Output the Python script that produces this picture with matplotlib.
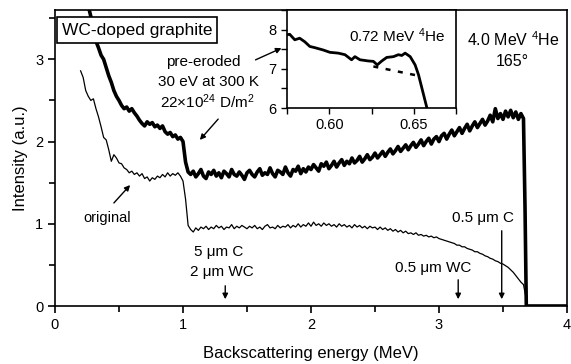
import numpy as np
import matplotlib
matplotlib.use("Agg")
import matplotlib.pyplot as plt
from matplotlib.ticker import MultipleLocator, FixedLocator, FormatStrFormatter

plt.rcParams['font.family'] = ['Liberation Sans', 'DejaVu Sans']
plt.rcParams['mathtext.fontset'] = 'custom'
plt.rcParams['mathtext.rm'] = 'Liberation Sans'
plt.rcParams['mathtext.it'] = 'Liberation Sans:italic'

# ---------------- data ----------------
energy_start = 0.20
energy_step = 0.02

pre_eroded = [
    3.95, 3.85, 3.74, 3.65, 3.52, 3.38, 3.22, 3.14, 3.05, 3.00,
    2.90, 2.80, 2.72, 2.62, 2.55, 2.50, 2.44, 2.40, 2.42, 2.37,
    2.40, 2.35, 2.31, 2.26, 2.22, 2.19, 2.24, 2.21, 2.23, 2.18,
    2.20, 2.16, 2.19, 2.12, 2.09, 2.11, 2.06, 2.08, 2.03, 2.05,
    2.00, 1.75, 1.63,
    1.60, 1.64, 1.57, 1.61, 1.66, 1.58, 1.55, 1.63, 1.60, 1.65,
    1.58, 1.62, 1.56, 1.64, 1.61, 1.57, 1.66, 1.60, 1.58, 1.63,
    1.59, 1.54, 1.62, 1.65, 1.60, 1.57, 1.63, 1.67, 1.59, 1.62,
    1.60, 1.68, 1.61, 1.57, 1.65, 1.63, 1.60, 1.69, 1.62, 1.58,
    1.66, 1.64, 1.70, 1.61, 1.67, 1.63, 1.69,
    1.66, 1.72, 1.68, 1.64, 1.73, 1.70, 1.75, 1.67, 1.71, 1.76,
    1.69, 1.74, 1.78, 1.71, 1.76, 1.73, 1.80, 1.74, 1.77, 1.82,
    1.75, 1.79, 1.84, 1.78, 1.81, 1.86, 1.80, 1.84, 1.88, 1.82,
    1.87, 1.91, 1.85, 1.89, 1.94, 1.88, 1.92, 1.96, 1.90, 1.95,
    1.99, 1.93, 1.97, 2.02, 1.95, 2.00, 2.04, 1.97, 2.03, 2.06,
    2.00, 2.07, 2.10, 2.03, 2.09, 2.14, 2.07, 2.12, 2.17, 2.10,
    2.16, 2.21, 2.13, 2.19, 2.24, 2.17, 2.22, 2.27, 2.20, 2.25,
    2.32, 2.24, 2.40, 2.28, 2.34, 2.27, 2.37, 2.30, 2.38, 2.29,
    2.36, 2.27, 2.34, 2.28,
]
pre_eroded_edge_e = [3.672, 3.682, 4.0]
pre_eroded_edge = [1.20, 0.0, 0.0]

original = [
    2.86, 2.78, 2.62, 2.55, 2.50, 2.52, 2.40, 2.30, 2.18, 2.05,
    2.02, 1.90, 1.76, 1.84, 1.80, 1.74, 1.73, 1.68, 1.66, 1.62,
    1.64, 1.60, 1.62, 1.58, 1.61, 1.55, 1.57, 1.52, 1.56, 1.54,
    1.58, 1.56, 1.60, 1.57, 1.62, 1.58, 1.61, 1.59, 1.62, 1.58,
    1.52, 1.30, 0.98, 0.93, 0.90, 0.95, 0.92, 0.96, 0.94, 0.97,
    0.93, 0.96, 0.94, 0.98, 0.95, 0.97, 0.93, 0.96, 0.95, 0.99,
    0.94, 0.97, 0.95, 0.98, 0.96, 0.94, 0.97, 0.95, 0.98, 0.94,
    0.96, 0.93, 0.97, 0.99, 0.95, 0.96, 0.94, 0.98, 0.95, 0.97,
    0.96, 0.99, 0.95, 0.98, 0.96, 1.00, 0.96, 0.99, 0.97, 1.01,
    0.97, 1.02, 0.98, 1.00, 0.97, 1.01, 0.98, 1.00, 0.97, 0.99,
    0.96, 1.00, 0.97, 0.99, 0.96, 0.98, 0.95, 0.99, 0.96, 0.98,
    0.95, 0.97, 0.94, 0.97, 0.95, 0.96, 0.93, 0.96, 0.93, 0.95,
    0.92, 0.94, 0.91, 0.93, 0.90, 0.92, 0.89, 0.91, 0.88, 0.89,
    0.87, 0.89, 0.86, 0.87, 0.85, 0.86, 0.84, 0.85, 0.83, 0.84,
    0.82, 0.81, 0.80, 0.79, 0.78, 0.77, 0.76, 0.74, 0.74, 0.72,
    0.72, 0.70, 0.69, 0.68, 0.66, 0.66, 0.64, 0.63, 0.61, 0.60,
    0.58, 0.57, 0.55, 0.54, 0.52, 0.51, 0.49, 0.47, 0.44, 0.41,
    0.37, 0.33, 0.29, 0.26,
]
original_edge_e = [3.68, 3.69, 4.0]
original_edge = [0.10, 0.0, 0.0]

# inset (0.72 MeV 4He)
inset_e = [0.575, 0.5766, 0.5796, 0.5825, 0.5855, 0.5885, 0.5914, 0.5964,
           0.6004, 0.6053, 0.6093, 0.6132, 0.6152, 0.6182, 0.6231, 0.6261,
           0.6284, 0.6311, 0.6340, 0.6380, 0.6409, 0.6429, 0.6449, 0.6479,
           0.6508, 0.6528, 0.6548, 0.6568, 0.6578, 0.6590]
inset_y = [7.87, 7.88, 7.74, 7.78, 7.69, 7.57, 7.54, 7.48,
           7.42, 7.40, 7.36, 7.23, 7.31, 7.23, 7.20, 7.19,
           7.10, 7.20, 7.29, 7.31, 7.36, 7.34, 7.40, 7.31,
           7.10, 6.85, 6.51, 6.17, 6.00, 5.80]
inset_dash_e = [0.6261, 0.6519]
inset_dash_y = [7.06, 6.83]

arrow_marks_e = [1.33, 3.15, 3.49]

# ---------------- figure ----------------
fig = plt.figure(figsize=(5.71, 3.64), dpi=100)
W, H = 571, 364
ax = fig.add_axes([55 / W, 1 - 306 / H, (567 - 55) / W, (306 - 10) / H])

n1 = len(pre_eroded)
e1 = np.round(energy_start + energy_step * np.arange(n1), 3)
ax.plot(list(e1) + pre_eroded_edge_e, pre_eroded + pre_eroded_edge,
        color='black', lw=2.6, zorder=3)
n2 = len(original)
e2 = np.round(energy_start + energy_step * np.arange(n2), 3)
ax.plot(list(e2) + original_edge_e, original + original_edge,
        color='black', lw=0.9, zorder=3)

ax.set_xlim(0, 4)
ax.set_ylim(0, 3.6)
ax.xaxis.set_major_locator(MultipleLocator(1))
ax.xaxis.set_minor_locator(MultipleLocator(0.5))
ax.yaxis.set_major_locator(MultipleLocator(1))
ax.yaxis.set_minor_locator(MultipleLocator(0.5))
ax.tick_params(which='both', direction='out', top=False, right=False,
               width=1.2, labelsize=10.5)
ax.tick_params(which='major', length=5)
ax.tick_params(which='minor', length=4)
for s in ax.spines.values():
    s.set_linewidth(1.2)
ax.set_xlabel('Backscattering energy (MeV)', fontsize=12, labelpad=10)
ax.set_ylabel('Intensity (a.u.)', fontsize=12, labelpad=5)

# texts in main axes
fig.text(137 / W, 1 - 30 / H, 'WC-doped graphite', fontsize=12.5,
         ha='center', va='center',
         bbox=dict(boxstyle='square,pad=0.3', fc='white', ec='black', lw=1.2))

def px(xp, yp):
    return ((xp - 55) / 512 * 4, (306 - yp) / 296 * 3.6)

ax.text(*px(203, 62), 'pre-eroded', fontsize=11, ha='center', va='center')
ax.text(*px(209, 82), '30 eV at 300 K', fontsize=11, ha='center', va='center')
ax.text(*px(207, 102), r'22$\times$10$^{24}$ D/m$^{2}$', fontsize=11,
        ha='center', va='center')
ax.annotate('', xy=px(198, 142), xytext=px(220, 117),
            arrowprops=dict(arrowstyle='-|>', color='black', lw=1.0,
                            mutation_scale=8))
ax.annotate('', xy=px(284, 47), xytext=px(253, 61),
            arrowprops=dict(arrowstyle='-|>', color='black', lw=1.0,
                            mutation_scale=8), annotation_clip=False)
ax.text(*px(107, 218), 'original', fontsize=10.5, ha='center', va='center')
ax.annotate('', xy=px(132, 183), xytext=px(112, 205),
            arrowprops=dict(arrowstyle='-|>', color='black', lw=1.0,
                            mutation_scale=8))
ax.text(*px(513, 40), r'4.0 MeV $^{4}$He', fontsize=11.5, ha='center', va='center')
ax.text(*px(512, 62), '165°', fontsize=11.5, ha='center', va='center')
ax.text(*px(219, 252), '5 μm C', fontsize=11, ha='center', va='center')
ax.text(*px(222, 272), '2 μm WC', fontsize=11, ha='center', va='center')
ax.text(*px(483, 218), '0.5 μm C', fontsize=11, ha='center', va='center')
ax.text(*px(433, 268), '0.5 μm WC', fontsize=11, ha='center', va='center')

arrow_tops = [283, 277, 228]
for e, yt in zip(arrow_marks_e, arrow_tops):
    ax.annotate('', xy=(e, (306 - 302) / 296 * 3.6), xytext=(e, (306 - yt) / 296 * 3.6),
                arrowprops=dict(arrowstyle='-|>', color='black', lw=1.0,
                                mutation_scale=8))

# ---------------- inset ----------------
axi = fig.add_axes([287 / W, 1 - 108 / H, (456 - 287) / W, (108 - 10) / H])
axi.plot(inset_e, inset_y, color='black', lw=2.0)
axi.plot(inset_dash_e, inset_dash_y, color='black', lw=1.8, ls=(0, (2, 3)))
axi.set_xlim(0.575, 0.675)
axi.set_ylim(6, 8.5)
axi.xaxis.set_major_locator(FixedLocator([0.60, 0.65]))
axi.xaxis.set_minor_locator(FixedLocator([0.575, 0.625, 0.675]))
axi.xaxis.set_major_formatter(FormatStrFormatter('%.2f'))
axi.yaxis.set_major_locator(MultipleLocator(1))
axi.yaxis.set_minor_locator(MultipleLocator(0.5))
axi.tick_params(which='both', direction='out', top=False, right=False,
                width=1.0, labelsize=10.5, length=4)
for s in axi.spines.values():
    s.set_linewidth(1.2)
axi.text(0.6405, 7.85, r'0.72 MeV $^{4}$He', fontsize=11, ha='center', va='center')

fig.savefig('out.png', dpi=100)
